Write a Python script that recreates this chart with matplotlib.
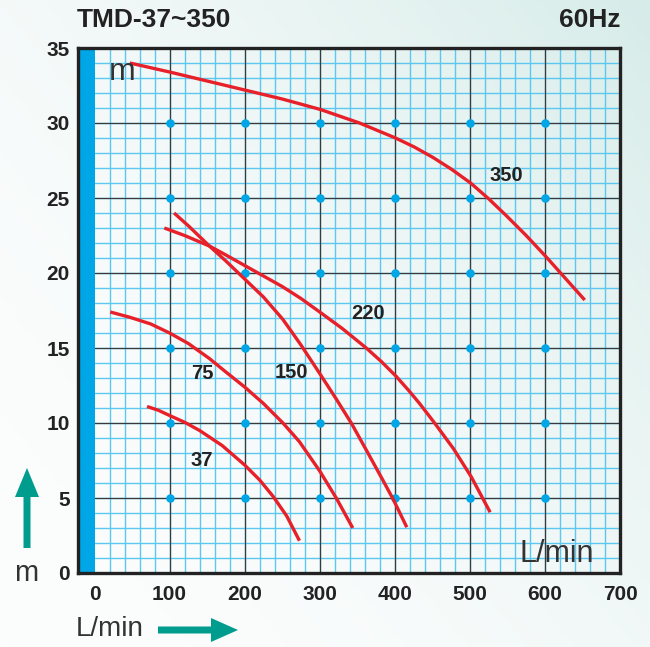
import numpy as np
import matplotlib.pyplot as plt
from matplotlib.patches import FancyArrow

plt.rcParams['font.family'] = ['Liberation Sans', 'DejaVu Sans']

# pump curves: flow (L/min) vs head (m)
q37 = [70, 85, 100, 120, 140, 170, 200, 220, 238, 256, 273]
h37 = [11.1, 10.85, 10.5, 10.05, 9.5, 8.5, 7.2, 6.2, 5.1, 3.8, 2.15]

q75 = [21, 47, 75, 100, 125, 153, 175, 200, 225, 251, 273, 300, 322, 344]
h75 = [17.4, 17.05, 16.6, 16.0, 15.3, 14.3, 13.4, 12.4, 11.3, 10.0, 8.75, 6.8, 5.0, 3.0]

q150 = [106, 126, 153, 175, 200, 225, 251, 275, 300, 322, 342, 362, 384, 398, 416]
h150 = [24.0, 23.1, 21.8, 20.8, 19.6, 18.4, 16.9, 15.2, 13.3, 11.6, 10.0, 8.2, 6.2, 4.9, 3.05]

q220 = [93, 120, 153, 175, 200, 225, 250, 275, 300, 330, 362, 382, 402, 418, 433, 453, 478, 502, 527]
h220 = [23.0, 22.5, 21.8, 21.2, 20.5, 19.8, 19.1, 18.3, 17.4, 16.3, 15.0, 14.1, 13.1, 12.2, 11.3, 10.0, 8.3, 6.4, 4.05]

q350 = [47, 100, 150, 200, 250, 301, 353, 401, 426, 451, 476, 501, 525, 549, 575, 603, 628, 653]
h350 = [34.0, 33.4, 32.8, 32.2, 31.6, 30.9, 30.0, 29.0, 28.4, 27.7, 26.9, 26.0, 24.95, 23.8, 22.5, 21.0, 19.6, 18.2]

curve_labels = ['37', '75', '150', '220', '350']
label_q = [143, 144, 263, 365, 548]
label_h = [7.5, 13.3, 13.4, 17.3, 26.5]

x_ticks = [0, 100, 200, 300, 400, 500, 600, 700]
y_ticks = [0, 5, 10, 15, 20, 25, 30, 35]
dot_q = [100, 200, 300, 400, 500, 600]
dot_h = [5, 10, 15, 20, 25, 30]

red = '#e8202a'
cyan = '#00a6e6'
teal = '#009c8e'

fig = plt.figure(figsize=(6.5, 6.47), dpi=100)

# soft background gradient
bg = fig.add_axes([0, 0, 1, 1], zorder=0)
gx, gy = np.meshgrid(np.linspace(0, 1, 200), np.linspace(0, 1, 200))
t = np.clip(0.55 * gx + 0.45 * gy, 0, 1)[..., None] ** 2
light = np.array([252, 253, 253]) / 255
tint = np.array([214, 236, 233]) / 255
bg.imshow(light * (1 - t) + tint * t, extent=[0, 1, 0, 1], origin='lower', aspect='auto')
bg.axis('off')

ax = fig.add_axes([78 / 650, 74 / 647, 542 / 650, 525 / 647], zorder=1)
ax.set_facecolor('none')
ax.set_xlim(-22, 700)
ax.set_ylim(0, 35)

# fine grid, then the heavier lines every 100 L/min and 5 m
for q in np.arange(20, 700, 20):
    ax.axvline(q, color='#5cc8ef', lw=1.0, zorder=1)
for h in np.arange(1, 35):
    ax.axhline(h, color='#5cc8ef', lw=1.0, zorder=1)
for q in x_ticks[1:-1]:
    ax.axvline(q, color='#3a3a3a', lw=0.9, zorder=2)
for h in y_ticks[1:-1]:
    ax.axhline(h, color='#3a3a3a', lw=0.9, zorder=2)

ax.axvspan(-22, 0, color=cyan, zorder=3, lw=0)

dq, dh = np.meshgrid(dot_q, dot_h)
ax.scatter(dq.ravel(), dh.ravel(), s=38, color=cyan, zorder=4, lw=0)

for q, h in [(q37, h37), (q75, h75), (q150, h150), (q220, h220), (q350, h350)]:
    ax.plot(q, h, color=red, lw=2.4, zorder=5, solid_capstyle='butt', solid_joinstyle='round')

for txt, q, h in zip(curve_labels, label_q, label_h):
    ax.text(q, h, txt, fontsize=14.5, fontweight='bold', color='#222222',
            ha='center', va='center', zorder=6)

ax.text(37, 32.9, 'm', fontsize=23, color='#333333', ha='center', va='baseline', zorder=6)
ax.text(616, 0.75, 'L/min', fontsize=22, color='#333333', ha='center', va='baseline', zorder=6)

ax.set_xticks(x_ticks)
ax.set_yticks(y_ticks)
ax.tick_params(length=0, labelsize=15, colors='#222222')
ax.tick_params(axis='y', pad=6)
ax.tick_params(axis='x', pad=9)
for lab in ax.get_xticklabels() + ax.get_yticklabels():
    lab.set_fontweight('bold')
for sp in ax.spines.values():
    sp.set_linewidth(2.4)
    sp.set_color('#222222')
    sp.set_zorder(7)

fig.text(77 / 650, 1 - 20 / 647, 'TMD-37~350', fontsize=19, fontweight='bold',
         color='#222222', ha='left', va='center')
fig.text(620 / 650, 1 - 20 / 647, '60Hz', fontsize=19, fontweight='bold',
         color='#222222', ha='right', va='center')

# axis hints outside the plot
fig.text(26 / 650, 1 - 573 / 647, 'm', fontsize=21, color='#333333', ha='center', va='center')
fig.text(110 / 650, 1 - 629 / 647, 'L/min', fontsize=20, color='#333333', ha='center', va='center')
fig.add_artist(FancyArrow(0.27, 0.99, 0, 0.80, width=0.07, head_width=0.24, head_length=0.29,
                          length_includes_head=True, color=teal, lw=0,
                          transform=fig.dpi_scale_trans))
fig.add_artist(FancyArrow(1.58, 0.17, 0.80, 0, width=0.07, head_width=0.24, head_length=0.27,
                          length_includes_head=True, color=teal, lw=0,
                          transform=fig.dpi_scale_trans))

fig.savefig('out.png', dpi=100)
